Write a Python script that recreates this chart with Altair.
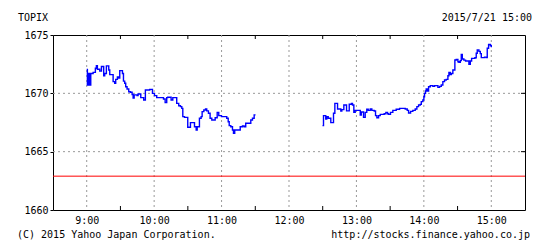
import altair as alt
import pandas as pd

# Morning session (minutes after 9:00, TOPIX value)
am_min = [0, 0.6, 1.8, 2.7, 3.6, 5.7, 7.7, 8.6, 9.5, 11.6, 13.1, 15.1, 16.0, 17.5, 19.6, 20.5,
          23.5, 24.9, 25.8, 27.3, 28.5, 29.4, 31.8, 32.7, 33.8, 34.7, 35.9, 37.4, 38.9, 40.4,
          41.3, 42.2, 44.8, 45.7, 48.1, 50.7, 52.2, 56.1, 58.5, 60.3, 62.3, 68.3, 69.8, 71.2,
          72.1, 75.1, 76.6, 80.1, 81.9, 83.4, 84.6, 85.5, 87.0, 89.9, 92.3, 95.9, 97.4, 98.3,
          100.3, 101.8, 102.7, 104.2, 105.7, 106.8, 108.3, 109.8, 111.3, 114.3, 116.1, 117.5,
          119.9, 124.6, 125.9, 126.8, 128.2, 129.7, 130.6, 131.7, 136.6, 138.6, 140.1, 141.5,
          146.0, 147.5, 149.0, 149.6]
am_val = [1672.05, 1670.7, 1671.7, 1670.7, 1671.7, 1671.8, 1672.15, 1672.37, 1672.07, 1671.9,
          1672.3, 1671.5, 1671.7, 1672.35, 1672.0, 1671.6, 1671.0, 1670.86, 1671.2, 1671.4,
          1671.3, 1671.95, 1671.7, 1671.05, 1670.86, 1670.57, 1670.37, 1670.14, 1670.09, 1669.9,
          1669.6, 1669.87, 1669.8, 1669.94, 1669.63, 1669.43, 1670.29, 1670.34, 1670.0, 1669.8,
          1669.63, 1669.51, 1669.2, 1669.63, 1669.66, 1669.43, 1669.63, 1669.14, 1668.94, 1668.86,
          1668.71, 1668.0, 1667.94, 1667.09, 1667.49, 1667.14, 1666.86, 1667.14, 1667.86, 1668.0,
          1668.43, 1668.57, 1668.66, 1668.5, 1668.29, 1667.86, 1667.71, 1667.91, 1668.37, 1668.09,
          1668.0, 1667.86, 1667.57, 1667.23, 1667.14, 1666.86, 1666.57, 1666.86, 1667.14, 1667.2,
          1667.14, 1667.43, 1667.71, 1667.86, 1668.14, 1668.1]

# Afternoon session
pm_min = [209.8, 210.7, 212.7, 213.6, 214.9, 217.2, 219.6, 220.8, 223.2, 226.1, 227.0, 228.8,
          231.2, 233.6, 235.6, 236.5, 237.7, 238.9, 243.4, 244.3, 246.3, 247.8, 249.2, 250.5,
          252.3, 253.7, 255.8, 257.0, 258.2, 259.7, 261.2, 264.7, 266.2, 267.7, 268.6, 270.3,
          272.4, 275.4, 278.4, 283.4, 285.2, 286.4, 288.2, 290.2, 292.3, 293.8, 295.3, 296.8,
          297.7, 299.1, 300.0, 300.6, 301.5, 302.1, 303.0, 304.2, 305.7, 308.0, 309.5, 312.5,
          314.0, 315.5, 316.9, 318.4, 319.9, 321.4, 322.3, 323.5, 324.4, 325.8, 327.6, 328.8,
          330.3, 331.2, 332.4, 333.3, 334.2, 335.6, 337.1, 340.1, 341.3, 342.5, 345.4, 346.6,
          347.5, 349.0, 350.2, 351.1, 354.0, 355.5, 356.4, 357.6, 359.1, 360.0]
pm_val = [1667.23, 1668.09, 1667.8, 1668.0, 1667.86, 1667.49, 1668.29, 1669.14, 1668.66, 1668.49,
          1668.6, 1669.0, 1668.5, 1669.07, 1669.14, 1669.0, 1668.37, 1668.54, 1668.14, 1668.4,
          1667.94, 1668.37, 1668.63, 1668.54, 1668.66, 1668.54, 1668.49, 1668.09, 1667.91, 1668.09,
          1668.2, 1668.25, 1668.37, 1668.25, 1668.2, 1668.37, 1668.54, 1668.63, 1668.71, 1668.66,
          1668.54, 1668.31, 1668.45, 1668.54, 1668.66, 1668.86, 1669.0, 1669.05, 1669.29, 1669.43,
          1669.71, 1670.0, 1670.2, 1670.37, 1670.2, 1670.57, 1670.66, 1670.6, 1670.66, 1670.51,
          1670.6, 1670.71, 1671.0, 1671.14, 1671.2, 1671.51, 1671.8, 1671.6, 1671.7, 1672.0,
          1672.86, 1672.9, 1672.71, 1672.65, 1672.8, 1673.34, 1672.94, 1672.85, 1672.77, 1672.49,
          1672.77, 1673.0, 1673.05, 1673.43, 1673.71, 1673.6, 1673.4, 1673.06, 1673.1, 1673.06,
          1673.86, 1674.2, 1674.1, 1673.94]

prev_close = 1662.9
hour_ticks = [540, 600, 660, 720, 780, 840, 900]
half_ticks = [570, 630, 690, 750, 810, 870]
y_ticks = [1660, 1665, 1670, 1675]
y_grid = [1665, 1670]
x_dom = [510, 930]
y_dom = [1660, 1675]

W, H = 472, 175
FONT = "DejaVu Sans Mono"

rows = []
i = 0
for m, v in zip(am_min, am_val):
    rows.append({"t": 540 + m, "v": v, "s": "am", "i": i}); i += 1
for m, v in zip(pm_min, pm_val):
    rows.append({"t": 540 + m, "v": v, "s": "pm", "i": i}); i += 1
df = pd.DataFrame(rows)

xs = alt.Scale(domain=x_dom, nice=False, zero=False)
ys = alt.Scale(domain=y_dom, nice=False, zero=False)
xa = alt.Axis(values=hour_ticks, labelExpr="floor(datum.value/60) + ':00'",
              tickSize=0, domain=False, grid=False, title=None,
              labelFont=FONT, labelFontSize=10, labelColor="black", labelPadding=5)
ya = alt.Axis(values=y_ticks, format="d", tickSize=3, tickColor="black", domain=False,
              grid=False, title=None, labelFont=FONT, labelFontSize=10,
              labelColor="black", labelPadding=2)

# tick lengths in data units (4 px)
dy = 4 * (y_dom[1] - y_dom[0]) / H
dx = 4 * (x_dom[1] - x_dom[0]) / W

line = alt.Chart(df).mark_line(color="#0000FF", strokeWidth=1.4, interpolate="step-after").encode(
    x=alt.X("t:Q", scale=xs, axis=xa),
    y=alt.Y("v:Q", scale=ys, axis=ya),
    detail="s:N",
    order="i:Q",
)

vgrid = alt.Chart(pd.DataFrame({"t": hour_ticks})).mark_rule(
    color="#999999", strokeDash=[2, 3], strokeWidth=1).encode(
    x=alt.X("t:Q", scale=xs, axis=xa))
hgrid = alt.Chart(pd.DataFrame({"v": y_grid})).mark_rule(
    color="#999999", strokeDash=[2, 3], strokeWidth=1).encode(
    y=alt.Y("v:Q", scale=ys, axis=ya))
red = alt.Chart(pd.DataFrame({"v": [prev_close]})).mark_rule(color="#FF0000", strokeWidth=1).encode(
    y=alt.Y("v:Q", scale=ys, axis=ya))

top_ticks = alt.Chart(pd.DataFrame({"t": half_ticks, "a": y_dom[1], "b": y_dom[1] - dy})).mark_rule(
    color="black").encode(
    x=alt.X("t:Q", scale=xs, axis=xa), y=alt.Y("a:Q", scale=ys, axis=ya), y2="b:Q")
bot_ticks = alt.Chart(pd.DataFrame({"t": half_ticks, "a": y_dom[0], "b": y_dom[0] + dy})).mark_rule(
    color="black").encode(
    x=alt.X("t:Q", scale=xs, axis=xa), y=alt.Y("a:Q", scale=ys, axis=ya), y2="b:Q")
right_ticks = alt.Chart(pd.DataFrame({"v": y_grid, "a": x_dom[1], "b": x_dom[1] - dx})).mark_rule(
    color="black").encode(
    y=alt.Y("v:Q", scale=ys, axis=ya), x=alt.X("a:Q", scale=xs, axis=xa), x2="b:Q")

def label(txt, x, y, align):
    return alt.Chart(pd.DataFrame({"txt": [txt]})).mark_text(
        font=FONT, fontSize=10, color="black", align=align, baseline="middle").encode(
        text="txt:N", x=alt.value(x), y=alt.value(y))

texts = [
    label("TOPIX", -35, -17, "left"),
    label("2015/7/21 15:00", 479, -17, "right"),
    label("(C) 2015 Yahoo Japan Corporation.", -36, 200, "left"),
    label("http://stocks.finance.yahoo.co.jp", 477, 200, "right"),
]

chart = alt.layer(vgrid, hgrid, red, line, top_ticks, bot_ticks, right_ticks, *texts).properties(
    width=W, height=H,
    padding={"left": 53, "top": 35, "right": 25, "bottom": 38},
    autosize=alt.AutoSizeParams(type="none"),
    background="white",
).configure_view(stroke="black", strokeWidth=1)

chart.save("out.html", embed_options={"renderer": "svg", "actions": False})
